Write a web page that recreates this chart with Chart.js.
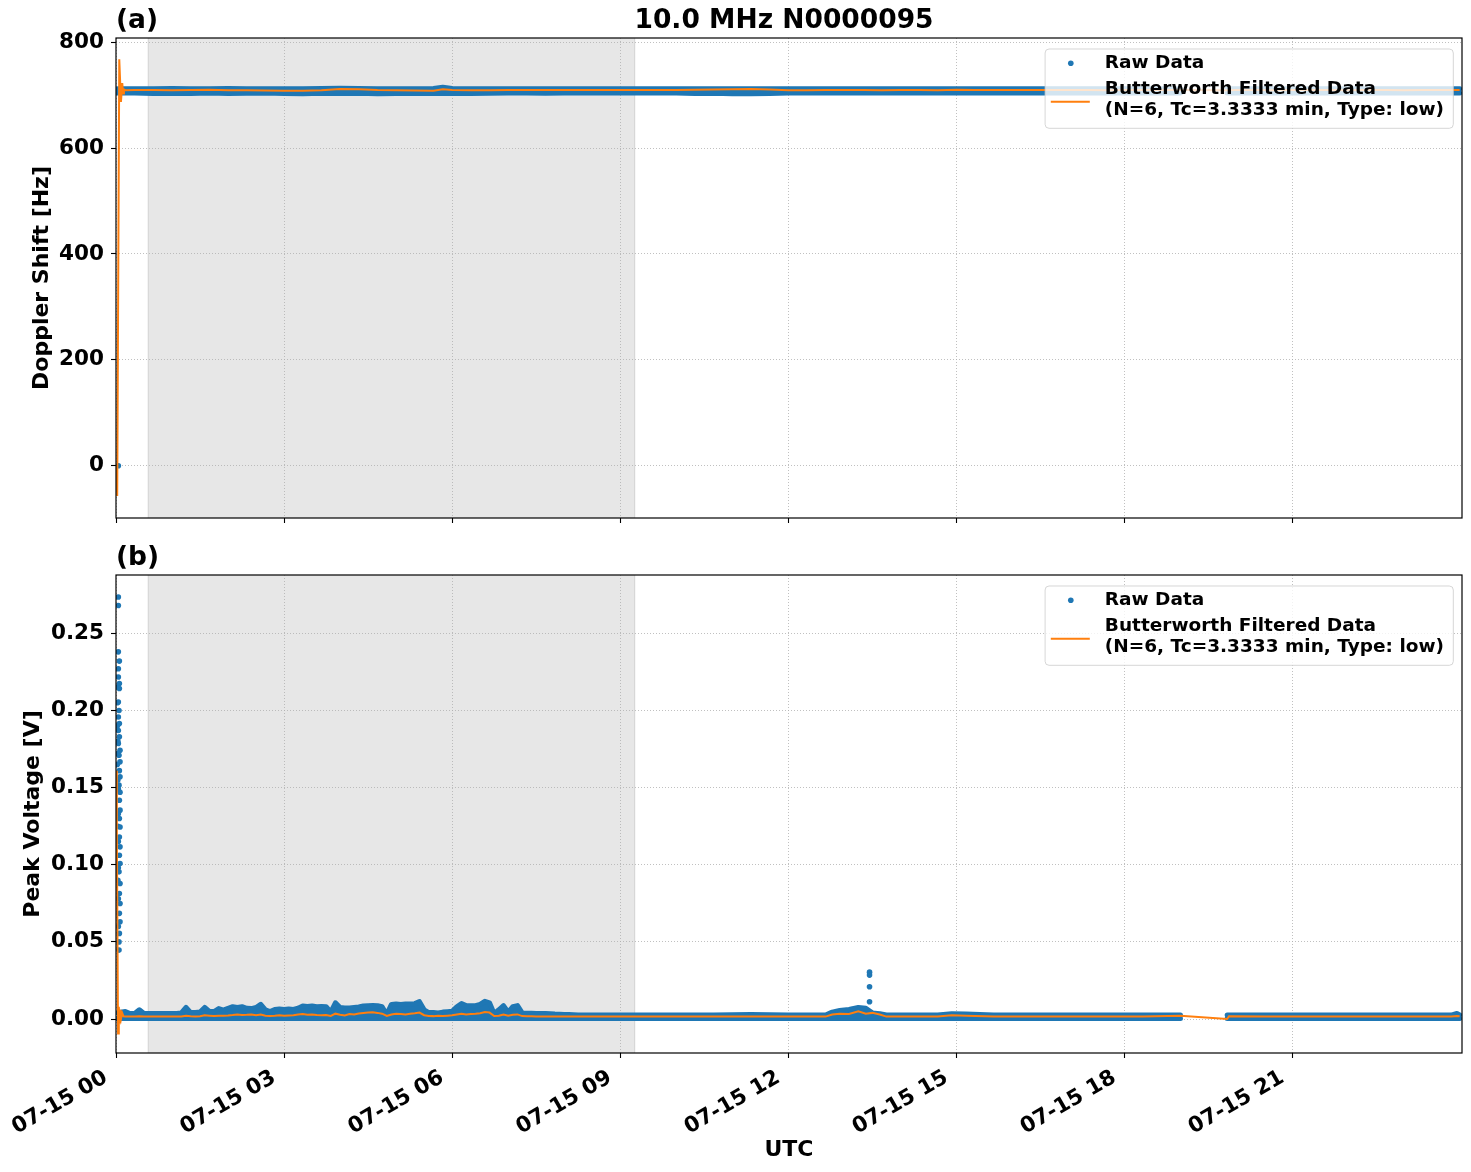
<!DOCTYPE html>
<html><head><meta charset="utf-8"><title>10.0 MHz N0000095</title>
<script src="https://cdn.jsdelivr.net/npm/chart.js@4.4.1/dist/chart.umd.min.js"></script>
<style>
html,body{margin:0;padding:0;background:#fff;}
body{width:1471px;height:1172px;position:relative;overflow:hidden;}
canvas{position:absolute;left:0;display:block;}
#ca{top:0;}
#cb{top:545px;}
</style></head><body>
<canvas id="ca" width="1471" height="545" style="width:1471px;height:545px"></canvas>
<canvas id="cb" width="1471" height="627" style="width:1471px;height:627px"></canvas>
<script>
// ---------------- DATA (times in minutes after 07-15 00:00 UTC) ----------------
const chartTitle = '10.0 MHz N0000095';
const xTickVals = [0,180,360,540,720,900,1080,1260];
const xTickLabels = ['07-15 00','07-15 03','07-15 06','07-15 09','07-15 12','07-15 15','07-15 18','07-15 21'];
const yTicksA = [0,200,400,600,800];
const yTickLabelsA = ['0','200','400','600','800'];
const yTicksB = [0,0.05,0.10,0.15,0.20,0.25];
const yTickLabelsB = ['0.00','0.05','0.10','0.15','0.20','0.25'];
const shadeSpan = [34, 556];
const xRange = [0, 1441.5];
const yRangeA = [-98.7, 808];
const yRangeB = [-0.022, 0.2878];

// Panel (a): Doppler shift [Hz]
const timesA = [2,10,
 20,40,60,80,100,120,140,160,180,200,
 220,240,260,280,300,320,340,350,360,380,
 400,420,440,460,480,500,520,540,560,580,
 600,620,640,660,680,700,720,740,760,780,
 800,820,840,860,880,900,920,940,960,980,
 1000,1020,1040,1060,1080,1100,1120,1140,1165,1190,
 1200,1220,1240,1260,1280,1300,1320,1340,1360,1380,
 1400,1420,1439];
const rawUpperA = [712,712,
 712,712,712.5,712,712,712.5,712,712,712,712,
 712.5,713,712.5,712,712,712,712.5,715,712.5,712,
 712,712,712,712,712,712,712,712,712,712,
 712,712,712,712,712,712,712,712,712,712,
 712,712,712,712,712,712,712,712,712,712,
 712,712,712,712,712,712,712,712,null,712,
 712,712,712,712,712,712,712,712,712,712,
 712,712,712];
const rawLowerA = [704,704,
 704,703,703.5,703,704,703,703.5,704,703,702.5,
 703.5,703,703.5,702.5,703,703.5,703,703,703.5,703,
 703.5,704,704,703.5,704,704,704,704.5,704,704,
 704,703,703.5,702.5,702.5,703,704,704,704,704.5,
 704,704,704,704,704,704,704,704.5,704,704,
 704,704,704,704,704,704,704,704,null,704,
 704,704,704,704,704,704,704,704,704,704,
 704,704,704];
const filtA = [null,709.5,
 709.6,709.8,709.4,709.6,710.4,709.4,709.5,708.6,708.2,708.5,
 709.5,711.5,711.2,709.8,709.5,709.0,708.4,711.0,709.6,709.4,
 709.5,709.7,709.9,710.0,709.8,709.6,709.8,710.0,709.9,709.7,
 709.8,710.3,710.6,711.2,711.6,710.6,709.5,709.4,709.6,709.8,
 709.6,709.5,709.7,709.6,709.5,710.2,709.8,709.6,709.8,709.6,
 709.7,709.8,709.6,709.5,709.7,709.8,709.6,709.7,null,709.5,
 709.6,709.7,709.5,709.6,709.8,709.6,709.5,709.7,709.6,709.5,
 709.6,709.7,709.6];
const filtStartTimesA = [0,1.3,3.5,5.3,6.7,7.6,8.5];
const filtStartA = [0,-57,768,687,723,703,711];
const rawPointTimesA = [2.5];
const rawPointsA = [0];

// Panel (b): Peak voltage [V]
const timesB1 = [2,5,
 10,15,20,25,30,35,40,45,50,55,
 60,65,70,75,80,85,90,95,100,105,
 110,115,120,125,130,135,140,145,150,155,
 160,165,170,175,180,185,190,195,200,205,
 210,215,220,225,230,235,240,245,250,255,
 260,265,270,275,280,285,290,295,300,305,
 310,315,320,325,330,335,340,345,350,355,
 360,365,370,375,380,385,390,395,400,405,
 410,415,420,425,430,435,440,445,450,455,
 460,465,470,475,480,485,490,495,500];
const rawUpperB1 = [0.0040,0.0045,
 0.0049,0.0036,0.0036,0.0060,0.0036,0.0036,0.0036,0.0036,0.0036,0.0036,
 0.0036,0.0036,0.0040,0.0075,0.0042,0.0042,0.0045,0.0075,0.0049,0.0049,
 0.0068,0.0058,0.0070,0.0080,0.0075,0.0080,0.0070,0.0068,0.0075,0.0096,
 0.0060,0.0049,0.0062,0.0065,0.0062,0.0065,0.0062,0.0070,0.0085,0.0082,
 0.0085,0.0080,0.0082,0.0080,0.0045,0.0105,0.0075,0.0072,0.0072,0.0075,
 0.0078,0.0085,0.0087,0.0088,0.0087,0.0080,0.0030,0.0095,0.0098,0.0095,
 0.0098,0.0098,0.0100,0.0113,0.0060,0.0042,0.0042,0.0040,0.0045,0.0048,
 0.0050,0.0080,0.0100,0.0087,0.0087,0.0087,0.0095,0.0115,0.0105,0.0035,
 0.0060,0.0087,0.0045,0.0080,0.0087,0.0040,0.0038,0.0038,0.0036,0.0036,
 0.0036,0.0034,0.0032,0.0031,0.0030,0.0029,0.0028,0.0027,0.0026];
const filtB1 = [null,null,
 0.0017,0.0016,0.0016,0.0018,0.0016,0.0016,0.0016,0.0016,0.0016,0.0016,
 0.0016,0.0016,0.0017,0.0022,0.0018,0.0017,0.0018,0.0024,0.0022,0.0020,
 0.0022,0.0021,0.0023,0.0026,0.0030,0.0027,0.0028,0.0030,0.0025,0.0030,
 0.0022,0.0020,0.0022,0.0025,0.0021,0.0023,0.0025,0.0029,0.0032,0.0028,
 0.0030,0.0026,0.0024,0.0026,0.0020,0.0035,0.0028,0.0023,0.0032,0.0030,
 0.0036,0.0040,0.0042,0.0044,0.0040,0.0035,0.0020,0.0030,0.0035,0.0033,
 0.0030,0.0035,0.0038,0.0042,0.0025,0.0020,0.0019,0.0021,0.0020,0.0022,
 0.0024,0.0030,0.0035,0.0030,0.0032,0.0034,0.0038,0.0045,0.0042,0.0020,
 0.0022,0.0030,0.0022,0.0028,0.0030,0.0019,0.0018,0.0018,0.0017,0.0017,
 0.0017,0.0017,0.0017,0.0016,0.0016,0.0016,0.0016,0.0016,0.0016];
const timesB2 = [520,560,600,640,680,720,740,760,767,775,
 785,795,803,810,818,825,860,880,895,910,
 940,980,1020,1060,1100,1140,1165,1190,1192,1230,
 1270,1310,1350,1390,1430,1436,1439];
const rawUpperB2 = [0.0026,0.0026,0.0026,0.0026,0.0030,0.0026,0.0026,0.0026,0.0045,0.0055,
 0.0062,0.0075,0.0070,0.0040,0.0035,0.0026,0.0026,0.0026,0.0034,0.0032,
 0.0026,0.0026,0.0026,0.0026,0.0026,0.0026,null,0.0026,0.0026,0.0026,
 0.0026,0.0026,0.0026,0.0026,0.0026,0.0036,0.0026];
const filtB2 = [0.0017,0.0016,0.0016,0.0016,0.0017,0.0016,0.0016,0.0016,0.0030,0.0035,
 0.0033,0.0050,0.0035,0.0040,0.0030,0.0016,0.0016,0.0017,0.0024,0.0022,
 0.0017,0.0016,0.0016,0.0017,0.0017,0.0021,null,0.0000,0.0018,0.0017,
 0.0017,0.0017,0.0017,0.0017,0.0017,0.0020,0.0018];
const lowerTimesB = [1,1140,1165,1190,1439];
const rawLowerB = [0.0003,0.0003,null,0.0003,0.0003];
const filtStartTimesB = [0,0.9,2.2,3.0,3.8,4.6,5.5,6.6,8];
const filtStartB = [0.161,0.12,-0.0093,0.008,-0.0028,0.006,0.0005,0.004,0.0018];
const rawPointTimesB = [2.5,2.5,2.5,3.6,2.5,2.5,3.6,1.4,3.6,2.5,3.2,2.5,3.6,2.5,3.6,2.5,4.3,3.2,4.3,3.6,
 4.3,3.2,4.3,3.6,4.3,3.6,4.3,3.6,4.3,3.6,4.3,3.2,4.3,3.6,4.3,3.6,4.3,3.6,3.2,
 1.4,1.4,2.0,1.4,2.0,2.0,2.5,2.5,2.0,2.5,2.5,2.0,2.5,2.5,3.2,
 807,807,807,807];
const rawPointsB = [0.2735,0.268,0.238,0.232,0.227,0.2217,0.2174,0.2152,0.2142,0.2055,0.200,0.1958,0.1915,0.187,0.183,0.1786,0.1742,0.171,0.1667,0.161,
 0.157,0.1516,0.147,0.1418,0.1354,0.130,0.1245,0.118,0.1116,0.1062,0.1008,0.0954,0.0879,0.0814,0.0749,0.0685,0.063,0.0555,0.0447,
 0.205,0.19,0.18,0.165,0.172,0.155,0.149,0.133,0.125,0.115,0.098,0.09,0.078,0.06,0.05,
 0.0304,0.0285,0.0209,0.0112];

// ---------------- STYLE ----------------
const BLUE = '#1f77b4', ORANGE = '#ff7f0e', GRID = '#b0b0b0';
const FONT = "'DejaVu Sans', sans-serif";
const TICK_SIZE = 21.5, LABEL_SIZE = 22, TITLE_SIZE = 26.5, LEGEND_SIZE = 18.5;
const RAW_LABEL = 'Raw Data';
const FILT_LABEL = 'Butterworth Filtered Data\n(N=6, Tc=3.3333 min, Type: low)';
Chart.defaults.font.family = FONT;
Chart.defaults.font.weight = 'bold';
Chart.defaults.color = '#000';

function pts(ts, vs){ return ts.map((t,i)=>({x:t, y:vs[i]})); }

function makeDatasets(filt, upper, lower, raw){
  return [
    {label: FILT_LABEL, legendKind:'line', legendRank:2, data: filt, borderColor: ORANGE, backgroundColor: ORANGE,
     borderWidth: 2, pointRadius: 0, spanGaps: true, fill: false, order: 0, tension: 0},
    {label: RAW_LABEL, legendKind:'dot', legendRank:1, data: upper, borderColor: BLUE, backgroundColor: BLUE,
     borderWidth: 5, pointRadius: 0, spanGaps: false, fill: '+1', order: 2, tension: 0,
     borderCapStyle:'round', borderJoinStyle:'round'},
    {label: 'raw-lower', data: lower, borderColor: BLUE, backgroundColor: BLUE,
     borderWidth: 5, pointRadius: 0, spanGaps: false, fill: false, order: 3, tension: 0,
     borderCapStyle:'round', borderJoinStyle:'round'},
    {label: 'raw-points', data: raw, showLine: false, pointRadius: 2.8, pointHoverRadius: 0,
     pointBackgroundColor: BLUE, pointBorderWidth: 0, borderColor: BLUE, backgroundColor: BLUE, order: 1}
  ];
}

function gridOpts(){
  return {color: GRID, lineWidth: 0.8, drawTicks: true, tickLength: 5, tickColor: '#000', tickWidth: 1.1,
          tickBorderDash: [], borderDash: [1,2]};
}

function xScale(showLabels, h){
  return {
    type: 'linear', position: 'bottom', min: xRange[0], max: xRange[1],
    afterBuildTicks: s => { s.ticks = xTickVals.map(v => ({value: v})); },
    afterFit: s => { s.height = h; },
    grid: gridOpts(),
    border: {display: false, dash: [1,2]},
    ticks: {display: showLabels, autoSkip: false, minRotation: 30, maxRotation: 30, padding: 7, labelOffset: -10,
            color: '#000', font: {size: TICK_SIZE, weight: 'bold', family: FONT},
            callback: (v, i) => xTickLabels[i]},
    title: {display: showLabels, text: 'UTC', color: '#000', font: {size: LABEL_SIZE, weight: 'bold', family: FONT},
            padding: {top: 0, bottom: 8.8}}
  };
}

function yScale(range, ticks, labels, title, titlePad){
  return {
    type: 'linear', position: 'left', min: range[0], max: range[1],
    afterBuildTicks: s => { s.ticks = ticks.map(v => ({value: v})); },
    afterFit: s => { s.width = 116; },
    grid: gridOpts(),
    border: {display: false, dash: [1,2]},
    ticks: {padding: 7, color: '#000', font: {size: TICK_SIZE, weight: 'bold', family: FONT},
            callback: (v, i) => labels[i]},
    title: {display: true, text: title, color: '#000', font: {size: LABEL_SIZE, weight: 'bold', family: FONT},
            padding: {top: titlePad, bottom: 0}}
  };
}

function roundRect(ctx, x, y, w, h, r){
  ctx.beginPath();
  ctx.moveTo(x+r, y); ctx.lineTo(x+w-r, y); ctx.arcTo(x+w, y, x+w, y+r, r);
  ctx.lineTo(x+w, y+h-r); ctx.arcTo(x+w, y+h, x+w-r, y+h, r);
  ctx.lineTo(x+r, y+h); ctx.arcTo(x, y+h, x, y+h-r, r);
  ctx.lineTo(x, y+r); ctx.arcTo(x, y, x+r, y, r); ctx.closePath();
}

function decorPlugin(panelLabel, mainTitle){
  return {
    id: 'decor',
    beforeDraw(chart){
      const {ctx, chartArea: a, scales: {x}} = chart;
      const x0 = x.getPixelForValue(shadeSpan[0]), x1 = x.getPixelForValue(shadeSpan[1]);
      ctx.save();
      ctx.fillStyle = 'rgb(231,231,231)';
      ctx.fillRect(x0, a.top, x1 - x0, a.bottom - a.top);
      ctx.strokeStyle = 'rgba(128,128,128,0.18)'; ctx.lineWidth = 1;
      ctx.beginPath(); ctx.moveTo(x0+0.5, a.top); ctx.lineTo(x0+0.5, a.bottom);
      ctx.moveTo(x1-0.5, a.top); ctx.lineTo(x1-0.5, a.bottom); ctx.stroke();
      ctx.restore();
    },
    afterDatasetsDraw(chart){
      const {ctx, chartArea: a} = chart;
      ctx.save();
      ctx.strokeStyle = '#000'; ctx.lineWidth = 1.2;
      ctx.strokeRect(a.left, a.top, a.right - a.left, a.bottom - a.top);
      ctx.fillStyle = '#000'; ctx.textBaseline = 'middle';
      ctx.font = "bold " + TITLE_SIZE + "px " + FONT;
      ctx.textAlign = 'left';
      ctx.fillText(panelLabel, a.left, a.top - 17);
      if (mainTitle){ ctx.textAlign = 'center'; ctx.fillText(mainTitle, (a.left + a.right)/2 - 5, a.top - 17); }
      const items = chart.data.datasets.filter(d => d.legendKind).sort((p,q) => p.legendRank - q.legendRank);
      ctx.font = "bold " + LEGEND_SIZE + "px " + FONT;
      let maxW = 0;
      items.forEach(d => d.label.split('\n').forEach(t => { maxW = Math.max(maxW, ctx.measureText(t).width); }));
      const textX = 59.7, w = textX + maxW + 9.3, h = 79.3;
      const left = a.right - 8.7 - w, top = a.top + 11;
      roundRect(ctx, left, top, w, h, 4);
      ctx.fillStyle = 'rgba(255,255,255,0.8)'; ctx.fill();
      ctx.strokeStyle = 'rgba(204,204,204,0.8)'; ctx.lineWidth = 1; ctx.stroke();
      ctx.textAlign = 'left'; ctx.textBaseline = 'middle'; ctx.fillStyle = '#000';
      items.forEach(d => {
        const lines = d.label.split('\n');
        if (d.legendKind === 'dot'){
          ctx.fillStyle = d.borderColor;
          ctx.beginPath(); ctx.arc(left + 25.7, top + 14.3, 2.8, 0, Math.PI*2); ctx.fill();
          ctx.fillStyle = '#000';
          ctx.fillText(lines[0], left + textX, top + 14.3);
        } else {
          ctx.strokeStyle = d.borderColor; ctx.lineWidth = 2;
          ctx.beginPath(); ctx.moveTo(left + 5.7, top + 52.7); ctx.lineTo(left + 44.7, top + 52.7); ctx.stroke();
          ctx.fillStyle = '#000';
          lines.forEach((t, k) => ctx.fillText(t, left + textX, top + 40.3 + k*20.7));
        }
      });
      ctx.restore();
    }
  };
}

function build(canvasId, datasets, scales, padTop, plugin){
  return new Chart(document.getElementById(canvasId), {
    type: 'line',
    data: {datasets},
    options: {
      responsive: false, animation: false, events: [], devicePixelRatio: 1,
      layout: {padding: {top: padTop, right: 9, left: 0, bottom: 0}},
      elements: {line: {tension: 0}},
      plugins: {legend: {display: false}, tooltip: {enabled: false}, title: {display: false}},
      scales
    },
    plugins: [plugin]
  });
}

const filtDataA = pts(filtStartTimesA, filtStartA).concat(pts(timesA, filtA).filter((p,i) => i > 0));
const dsA = makeDatasets(filtDataA, pts(timesA, rawUpperA), pts(timesA, rawLowerA), pts(rawPointTimesA, rawPointsA));
build('ca', dsA, {x: xScale(false, 27), y: yScale(yRangeA, yTicksA, yTickLabelsA, 'Doppler Shift [Hz]', 28.8)}, 38,
      decorPlugin('(a)', chartTitle));

const filtDataB = pts(filtStartTimesB, filtStartB)
  .concat(pts(timesB1, filtB1).filter(p => p.y !== null))
  .concat(pts(timesB2, filtB2));
const upperB = pts(timesB1, rawUpperB1).concat(pts(timesB2, rawUpperB2));
const dsB = makeDatasets(filtDataB, upperB, pts(lowerTimesB, rawLowerB), pts(rawPointTimesB, rawPointsB));
build('cb', dsB, {x: xScale(true, 119), y: yScale(yRangeB, yTicksB, yTickLabelsB, 'Peak Voltage [V]', 19.8)}, 30,
      decorPlugin('(b)', null));
</script></body></html>
